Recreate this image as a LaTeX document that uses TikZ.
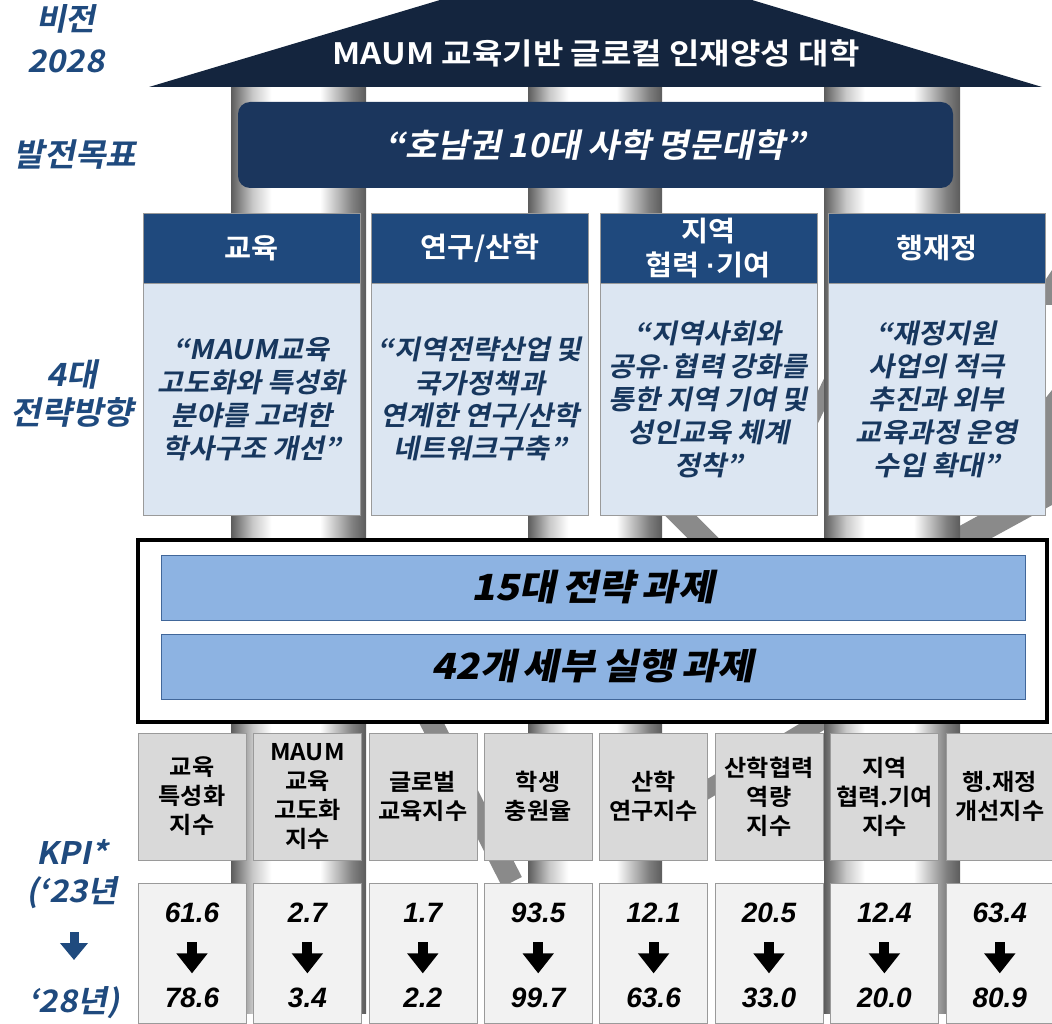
\documentclass[tikz,border=0pt]{standalone}
\usepackage{fontspec}
\usetikzlibrary{positioning,arrows.meta}

\newfontfamily\krfont{Noto Sans CJK KR}[BoldFont={Noto Sans CJK KR Bold}, FakeStretch=1.05, WordSpace=0.85]
\newfontfamily\krwide{Noto Sans CJK KR Bold}[FakeStretch=1.12]
\newfontfamily\krslant{Noto Sans CJK KR Bold}[FakeSlant=0.2, FakeStretch=1.05, WordSpace=0.85]
\newfontfamily\krheavy{Noto Sans CJK KR Black}[FakeSlant=0.2, FakeStretch=1.1, WordSpace=0.7]
\newfontfamily\numfont{Liberation Sans}
\newcommand\krdot{\kern1pt{\numfont\bfseries ·}\kern1pt}

\definecolor{roofnavy}{HTML}{14253E}
\definecolor{goalblue}{HTML}{1B365D}
\definecolor{headblue}{HTML}{1F497D}
\definecolor{dirfill}{HTML}{DCE6F2}
\definecolor{dirtext}{HTML}{17375E}
\definecolor{sideblue}{HTML}{1F4A7E}
\definecolor{barblue}{HTML}{8DB3E2}
\definecolor{barline}{HTML}{41679A}
\definecolor{kpigray}{HTML}{D9D9D9}
\definecolor{vallight}{HTML}{F2F2F2}
\definecolor{boxline}{HTML}{9A9A9A}
\definecolor{markgray}{HTML}{8A8A8A}
\definecolor{pilldark}{HTML}{5C5C5C}
\definecolor{pillmid}{HTML}{C8C8C8}

\pgfdeclarehorizontalshading{pillar}{100bp}{color(0bp)=(pilldark); color(25bp)=(pilldark);
  color(33bp)=(pillmid); color(40bp)=(white); color(58bp)=(white); color(70bp)=(gray);
  color(75bp)=(pilldark); color(100bp)=(pilldark)}

\tikzset{
  markline/.style={draw=markgray, line width=22pt},
  rooftext/.style={text=white, font=\krwide\fontsize{29.5}{32}\selectfont},
  goalbox/.style={fill=goalblue, rounded corners=12pt, minimum width=715pt, minimum height=86pt,
    text=white, font=\krslant\fontsize{33}{38}\selectfont},
  head/.style={draw=boxline, fill=headblue, minimum width=217pt, minimum height=70pt, align=center,
    text=white, font=\krfont\bfseries\fontsize{28}{34}\selectfont},
  dirbox/.style={draw=boxline, fill=dirfill, minimum width=217pt, minimum height=232pt, align=center,
    text=dirtext, font=\krslant\fontsize{27}{33}\selectfont},
  taskframe/.style={draw=black, line width=3.5pt, fill=white, minimum width=909pt, minimum height=182pt},
  taskbar/.style={draw=barline, fill=barblue, minimum width=864pt, minimum height=65pt,
    font=\krheavy\fontsize{36}{40}\selectfont},
  kpibox/.style={draw=boxline, fill=kpigray, minimum width=108pt, minimum height=127pt, align=center,
    font=\krfont\bfseries\fontsize{23}{29}\selectfont},
  valbox/.style={draw=boxline, fill=vallight, minimum width=108pt, minimum height=140pt},
  numtext/.style={font=\numfont\bfseries\itshape\fontsize{28}{30}\selectfont},
  downarrow/.style={line width=10pt, -{Triangle[width=30pt, length=20pt]}},
  sidetext/.style={align=center, text=sideblue, font=\krslant\fontsize{32}{40}\selectfont}
}

\begin{document}
\begin{tikzpicture}[x=1pt, y=-1pt, inner sep=0pt, node distance=7pt]
  \useasboundingbox (0,0) rectangle (1052,1024);

  % watermark strokes behind
  \draw[markline] (428,716) -- (512,882);
  \draw[markline] (670,505) -- (715,550);
  \draw[markline, line width=18pt] (698,795) -- (830,716);
  \draw[markline, line width=26pt] (950,546) -- (1056,488);
  \draw[markline, line width=14pt] (832,378) -- (806,432);
  \fill[markgray] (1044,400) -- (1052,390) -- (1052,495) -- (1044,495) -- cycle;
  \fill[markgray] (1044,282) -- (1052,270) -- (1052,305) -- (1044,305) -- cycle;

  % pillars
  \shade[shading=pillar] (231,87) rectangle (366,1013);
  \shade[shading=pillar] (528,87) rectangle (662,1013);
  \shade[shading=pillar] (824,87) rectangle (960,1013);

  % roof
  \fill[roofnavy] (149,87) -- (440,0) -- (752,0) -- (1042,87) -- cycle;
  \node[rooftext] (vision) at (596,53) {MAUM 교육기반 글로컬 인재양성 대학};

  \node[goalbox] (goal) at (595.5,145) {“호남권 10대 사학 명문대학”};

  % four directions
  \node[head] (h1) at (251.5,248) {교육};
  \node[head] (h2) [right=11pt of h1] {연구/산학};
  \node[head] (h3) [right=11pt of h2] {지역\\협력 \krdot 기여};
  \node[head] (h4) [right=11pt of h3] {행재정};

  \node[dirbox] (d1) [below=0pt of h1] {“MAUM교육\\고도화와 특성화\\분야를 고려한\\학사구조 개선”};
  \node[dirbox] (d2) [below=0pt of h2] {“지역전략산업 및\\국가정책과\\연계한 연구/산학\\네트워크구축”};
  \node[dirbox] (d3) [below=0pt of h3] {“지역사회와\\공유\krdot 협력 강화를\\통한 지역 기여 및\\성인교육 체계\\정착”};
  \node[dirbox] (d4) [below=0pt of h4] {“재정지원\\사업의 적극\\추진과 외부\\교육과정 운영\\수입 확대”};

  % tasks
  \node[taskframe] (tasks) at (592.5,631) {};
  \node[taskbar] (t1) at (593,587.5) {15대 전략 과제};
  \node[taskbar] (t2) at (593,666.5) {42개 세부 실행 과제};

  % KPI
  \node[kpibox] (k1) at (192,796.5) {교육\\특성화\\지수};
  \node[kpibox] (k2) [right=of k1] {MAUM\\교육\\고도화\\지수};
  \node[kpibox] (k3) [right=of k2] {글로벌\\교육지수};
  \node[kpibox] (k4) [right=of k3] {학생\\충원율};
  \node[kpibox] (k5) [right=of k4] {산학\\연구지수};
  \node[kpibox] (k6) [right=of k5] {산학협력\\역량\\지수};
  \node[kpibox] (k7) [right=of k6] {지역\\협력.기여\\지수};
  \node[kpibox] (k8) [right=of k7] {행.재정\\개선지수};

  \node[valbox] (v1) [below=23pt of k1] {};
  \node[valbox] (v2) [below=23pt of k2] {};
  \node[valbox] (v3) [below=23pt of k3] {};
  \node[valbox] (v4) [below=23pt of k4] {};
  \node[valbox] (v5) [below=23pt of k5] {};
  \node[valbox] (v6) [below=23pt of k6] {};
  \node[valbox] (v7) [below=23pt of k7] {};
  \node[valbox] (v8) [below=23pt of k8] {};

  \node[numtext] (a1) at ([yshift=41pt]v1.center) {61.6};
  \node[numtext] (b1) at ([yshift=-44pt]v1.center) {78.6};
  \node[numtext] (a2) at ([yshift=41pt]v2.center) {2.7};
  \node[numtext] (b2) at ([yshift=-44pt]v2.center) {3.4};
  \node[numtext] (a3) at ([yshift=41pt]v3.center) {1.7};
  \node[numtext] (b3) at ([yshift=-44pt]v3.center) {2.2};
  \node[numtext] (a4) at ([yshift=41pt]v4.center) {93.5};
  \node[numtext] (b4) at ([yshift=-44pt]v4.center) {99.7};
  \node[numtext] (a5) at ([yshift=41pt]v5.center) {12.1};
  \node[numtext] (b5) at ([yshift=-44pt]v5.center) {63.6};
  \node[numtext] (a6) at ([yshift=41pt]v6.center) {20.5};
  \node[numtext] (b6) at ([yshift=-44pt]v6.center) {33.0};
  \node[numtext] (a7) at ([yshift=41pt]v7.center) {12.4};
  \node[numtext] (b7) at ([yshift=-44pt]v7.center) {20.0};
  \node[numtext] (a8) at ([yshift=41pt]v8.center) {63.4};
  \node[numtext] (b8) at ([yshift=-44pt]v8.center) {80.9};

  \draw[downarrow] ([yshift=-30pt]a1.center) -- ([yshift=24pt]b1.center);
  \draw[downarrow] ([yshift=-30pt]a2.center) -- ([yshift=24pt]b2.center);
  \draw[downarrow] ([yshift=-30pt]a3.center) -- ([yshift=24pt]b3.center);
  \draw[downarrow] ([yshift=-30pt]a4.center) -- ([yshift=24pt]b4.center);
  \draw[downarrow] ([yshift=-30pt]a5.center) -- ([yshift=24pt]b5.center);
  \draw[downarrow] ([yshift=-30pt]a6.center) -- ([yshift=24pt]b6.center);
  \draw[downarrow] ([yshift=-30pt]a7.center) -- ([yshift=24pt]b7.center);
  \draw[downarrow] ([yshift=-30pt]a8.center) -- ([yshift=24pt]b8.center);

  % left labels
  \node[sidetext, font=\krslant\fontsize{31}{42}\selectfont] (visside) at (66,39) {비전\\2028};
  \node[sidetext] (goalside) at (75,155) {발전목표};
  \node[sidetext, font=\krslant\fontsize{32}{38}\selectfont] (dirside) at (72,394) {4대\\전략방향};
  \node[sidetext, font=\krslant\fontsize{31}{38}\selectfont] (kpiside) at (72,874) {KPI*\\(‘23년};
  \node[sidetext, font=\krslant\fontsize{31}{38}\selectfont] (yearside) at (74,1003) {‘28년)};
  \draw[downarrow, sideblue, line width=9pt, -{Triangle[width=27pt, length=17pt]}]
    ([yshift=-58pt,xshift=2pt]kpiside.center) -- ([yshift=43pt]yearside.center);
\end{tikzpicture}
\end{document}
